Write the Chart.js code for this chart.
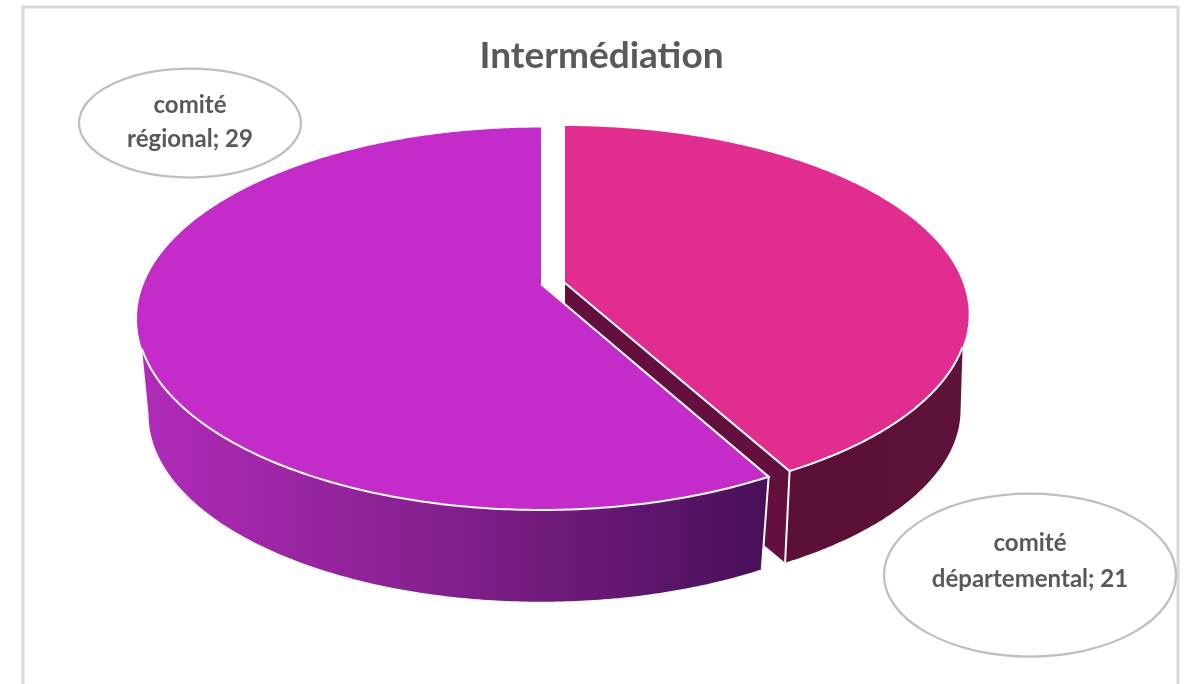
<!DOCTYPE html>
<html>
<head>
<meta charset="utf-8">
<style>html,body{margin:0;padding:0;background:#fff}canvas{display:block}</style>
<script src="https://cdn.jsdelivr.net/npm/chart.js@4"></script>
</head>
<body>
<canvas id="c" width="1191" height="684"></canvas>
<script>
const categories = ['comité départemental', 'comité régional'];
const values = [21, 29];
const titleText = 'Intermédiation';
const sliceColors = ['#e02d8f', '#c32cc8'];

// Perspective projection of each slice's top and bottom discs (pixel geometry only)
const views = [
  { top: {x: 565, y: 283, a: 398, b: 183.2, k: -0.167},
    bottom: {x: 565, y: 379, a: 390, b: 179, k: -0.167},
    wallEnd: 109.3 * Math.PI / 180, wallEndBottom: 100.4 * Math.PI / 180 },
  { top: {x: 541, y: 284, a: 397.3, b: 184.9, k: -0.1817},
    bottom: {x: 541, y: 381, a: 386, b: 181, k: -0.18},
    wallEnd: 250.7 * Math.PI / 180, wallEndBottom: 259.6 * Math.PI / 180 }
];
const calloutShapes = [
  { cx: 1030, cy: 575, rx: 146, ry: 81.5, maxW: 200, lineH: 36, y0: 543 },
  { cx: 190, cy: 123, rx: 111, ry: 54.5, maxW: 150, lineH: 34, y0: 105 }
];

function project(p, phi) {
  const u = Math.sin(phi), v = -Math.cos(phi), w = 1 + p.k * v;
  return [p.x + p.a * u / w, p.y + p.b * v / w];
}
function arcPoints(p, from, to) {
  const n = Math.max(2, Math.ceil(Math.abs(to - from) / 0.01));
  const pts = [];
  for (let i = 0; i <= n; i++) pts.push(project(p, from + (to - from) * i / n));
  return pts;
}
function poly(ctx, pts, fill, stroke, lw) {
  ctx.beginPath();
  pts.forEach((q, i) => i ? ctx.lineTo(q[0], q[1]) : ctx.moveTo(q[0], q[1]));
  ctx.closePath();
  ctx.fillStyle = fill;
  ctx.fill();
  if (stroke) { ctx.strokeStyle = stroke; ctx.lineWidth = lw; ctx.lineJoin = 'round'; ctx.stroke(); }
}
function line(ctx, pts, color, lw) {
  ctx.beginPath();
  pts.forEach((q, i) => i ? ctx.lineTo(q[0], q[1]) : ctx.moveTo(q[0], q[1]));
  ctx.strokeStyle = color; ctx.lineWidth = lw; ctx.stroke();
}

const pie3d = {
  id: 'pie3d',
  beforeDraw(chart) {
    const ctx = chart.ctx;
    ctx.save();
    ctx.fillStyle = '#fff';
    ctx.fillRect(0, 0, chart.width, chart.height);
    ctx.strokeStyle = '#d9d9d9';
    ctx.lineWidth = 3;
    ctx.beginPath();
    ctx.moveTo(23, 700); ctx.lineTo(23, 7); ctx.lineTo(1178, 7); ctx.lineTo(1178, 700);
    ctx.stroke();
    ctx.restore();
  },
  beforeDatasetDraw(chart) {
    const ctx = chart.ctx;
    const arcs = chart.getDatasetMeta(0).data;
    const ang = arcs.map(a => ({ s: a.startAngle + Math.PI / 2, e: a.endAngle + Math.PI / 2 }));
    ctx.save();

    // first slice: cut face, outer wall, top
    let v = views[0], A = ang[0];
    const capex = [v.top.x, v.top.y], capexB = [v.bottom.x, v.bottom.y];
    const endT = project(v.top, A.e), endB = project(v.bottom, A.e);
    poly(ctx, [capex, endT, endB, capexB], '#63103e');
    const pinkGrad = ctx.createLinearGradient(780, 0, 970, 0);
    pinkGrad.addColorStop(0, '#5a0f36');
    pinkGrad.addColorStop(1, '#5e1239');
    poly(ctx, arcPoints(v.top, A.e, v.wallEnd).concat(arcPoints(v.bottom, v.wallEndBottom, A.e)), pinkGrad);
    line(ctx, [endT, endB], '#ffffff', 2);
    poly(ctx, [capex].concat(arcPoints(v.top, A.s, A.e)), sliceColors[0]);
    line(ctx, [capex, endT].concat(arcPoints(v.top, A.e, v.wallEnd)), '#ffffff', 2);

    // second slice: outer wall, top
    v = views[1]; A = ang[1];
    const sT = project(v.top, A.s), sB = project(v.bottom, A.s);
    const grad = ctx.createLinearGradient(145, 0, 765, 0);
    grad.addColorStop(0, '#b02bb8');
    grad.addColorStop(0.5, '#821f8c');
    grad.addColorStop(1, '#481058');
    poly(ctx, arcPoints(v.top, A.s, v.wallEnd).concat(arcPoints(v.bottom, v.wallEndBottom, A.s)), grad);
    line(ctx, [sT, sB], '#ffffff', 2);
    poly(ctx, [[v.top.x, v.top.y]].concat(arcPoints(v.top, A.s, A.e)), sliceColors[1]);
    line(ctx, [[v.top.x, v.top.y], sT].concat(arcPoints(v.top, A.s, v.wallEnd)), '#ffffff', 2);

    ctx.restore();
    return false;
  },
  afterDraw(chart) {
    const ctx = chart.ctx;
    ctx.save();
    ctx.font = 'bold 24px Lato';
    ctx.textAlign = 'center';
    ctx.textBaseline = 'middle';
    categories.forEach((name, i) => {
      const s = calloutShapes[i];
      ctx.beginPath();
      ctx.ellipse(s.cx, s.cy, s.rx, s.ry, 0, 0, Math.PI * 2);
      ctx.strokeStyle = '#bfbfbf';
      ctx.lineWidth = 2.25;
      ctx.stroke();
      const words = (name + '; ' + values[i]).split(' ');
      const lines = [];
      let cur = '';
      words.forEach(w => {
        const t = cur ? cur + ' ' + w : w;
        if (ctx.measureText(t).width > s.maxW && cur) { lines.push(cur); cur = w; } else cur = t;
      });
      lines.push(cur);
      ctx.fillStyle = '#595959';
      lines.forEach((l, j) => ctx.fillText(l, s.cx, s.y0 + j * s.lineH));
    });
    ctx.restore();
  }
};

new Chart(document.getElementById('c'), {
  type: 'pie',
  data: {
    labels: categories,
    datasets: [{ data: values, backgroundColor: sliceColors, borderWidth: 0 }]
  },
  options: {
    responsive: false,
    animation: false,
    events: [],
    rotation: 0,
    layout: { padding: { left: 12, top: 34 } },
    plugins: {
      legend: { display: false },
      tooltip: { enabled: false },
      title: {
        display: true,
        text: titleText,
        color: '#595959',
        font: { family: 'Lato', weight: 'bold', size: 37 },
        padding: 0
      }
    }
  },
  plugins: [pie3d]
});
</script>
</body>
</html>
